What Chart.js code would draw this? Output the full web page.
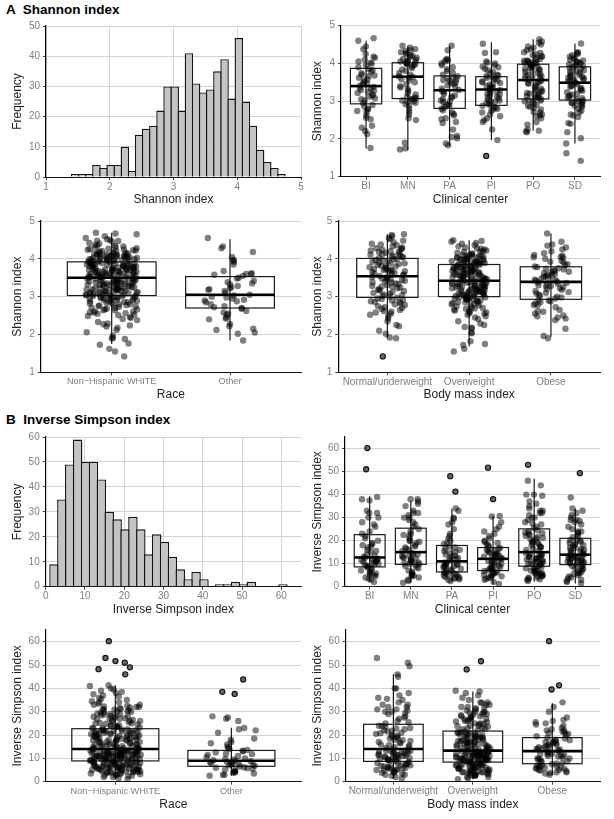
<!DOCTYPE html>
<html><head><meta charset="utf-8">
<script src="https://cdn.jsdelivr.net/npm/chart.js@4.4.1/dist/chart.umd.min.js"></script>
<style>
html,body{margin:0;padding:0;background:#fff;}
body{width:614px;height:819px;position:relative;overflow:hidden;font-family:"Liberation Sans",Arial,sans-serif;}
.ttl{position:absolute;left:6px;font-weight:bold;font-size:13.5px;white-space:pre;color:#000;line-height:16px;}
canvas{position:absolute;}
</style></head><body>
<div class="ttl" style="top:2px">A  Shannon index</div>
<div class="ttl" style="top:412px">B  Inverse Simpson index</div>
<canvas id="c1"></canvas><canvas id="c2"></canvas><canvas id="c3"></canvas><canvas id="c4"></canvas>
<canvas id="c5"></canvas><canvas id="c6"></canvas><canvas id="c7"></canvas><canvas id="c8"></canvas>
<script>
// ---------------- DATA ----------------
const centers = ['BI','MN','PA','PI','PO','SD'];
const races = ['Non\u2212Hispanic WHITE','Other'];
const bmiGroups = ['Normal/underweight','Overweight','Obese'];

// Histograms (bin centres and counts)
const shBins = [1.456,1.567,1.679,1.791,1.902,2.014,2.126,2.237,2.349,2.461,2.572,2.684,2.796,2.907,3.019,3.131,3.242,3.354,3.466,3.577,3.689,3.801,3.912,4.024,4.136,4.247,4.359,4.471,4.582,4.694];
const shFreq = [1,1,1,4,3,4,4,10,2,14,16,17,22,30,30,22,41,31,28,29,35,39,26,46,25,17,9,5,3,1];
const isBins = [2.105,4.115,6.125,8.135,10.145,12.155,14.165,16.175,18.185,20.195,22.205,24.215,26.225,28.235,30.245,32.255,34.265,36.275,38.285,40.295,42.305,44.315,46.325,48.335,50.345,52.355,54.365,56.375,58.385,60.395];
const isFreq = [9,35,49,59,50,50,43,30,27,23,28,23,13,21,18,12,7,3,6,3,0,1,1,2,1,2,0,0,0,1];

// Tick labels
const shHistXTicks = [1,2,3,4,5];
const shHistYTicks = [0,10,20,30,40,50];
const isHistXTicks = [0,10,20,30,40,50,60];
const isHistYTicks = [0,10,20,30,40,50,60];
const shBoxYTicks = [1,2,3,4,5];
const isBoxYTicks = [0,10,20,30,40,50,60];

// Box statistics per group: [lower whisker, Q1, median, Q3, upper whisker]
const shCenterBox = [[1.75,2.93,3.40,3.87,4.60],[1.71,3.07,3.65,4.02,4.47],[1.81,2.81,3.29,3.67,4.47],[1.97,2.89,3.31,3.65,4.56],[2.22,3.06,3.56,3.98,4.64],[1.88,3.03,3.49,3.91,4.53]];
const shRaceBox = [[1.75,3.03,3.50,3.92,4.69],[1.84,2.70,3.05,3.53,4.52]];
const shBmiBox = [[1.91,2.98,3.54,4.01,4.65],[1.68,3.00,3.42,3.85,4.49],[1.94,2.93,3.39,3.79,4.67]];
const isCenterBox = [[2.1,8.6,12.7,22.6,39.3],[1.7,9.7,15.0,25.4,37.1],[2.1,6.4,11.0,17.9,34.0],[1.1,7.0,12.1,17.0,30.7],[2.1,8.9,15.0,25.1,46.9],[1.4,9.6,13.9,21.0,34.0]];
const isRaceBox = [[1.1,8.9,14.0,22.7,41.3],[2.6,6.6,9.0,13.4,23.1]];
const isBmiBox = [[1.4,8.7,14.0,24.6,46.0],[1.1,8.4,13.3,21.7,38.7],[2.9,7.7,13.1,18.9,33.6]];

// Outliers (outlined points)
const shCenterOut = [[],[],[],[1.55],[],[]];
const shRaceOut = [[],[]];
const shBmiOut = [[1.42],[],[]];
const isCenterOut = [[60.2,51],[],[48,41.3],[51.7,38],[52.9],[49.3]];
const isRaceOut = [[60.2,53,51.7,51,49,48.2,46],[43.8,38.5,37.6]];
const isBmiOut = [[],[51.6,48.1],[60.2,41.3,39.5]];

// Shannon index, individual samples by clinical center
const shCenterPts = [
[1.76,2.13,2.21,2.30,2.35,2.52,2.56,2.62,2.72,2.74,2.78,2.80,2.86,2.90,2.95,3.02,3.05,3.08,3.12,3.15,3.18,3.22,3.25,3.28,3.30,3.33,3.36,3.38,3.42,3.46,3.48,3.50,3.55,3.58,3.62,3.66,3.68,3.70,3.74,3.78,3.82,3.85,3.90,3.95,4.00,4.02,4.05,4.10,4.15,4.18,4.25,4.38,4.45,4.60,4.67],
[1.72,1.75,1.90,2.50,2.55,2.65,2.72,2.80,2.88,2.92,2.96,3.00,3.02,3.05,3.06,3.08,3.12,3.18,3.22,3.28,3.32,3.36,3.40,3.45,3.50,3.55,3.58,3.62,3.64,3.66,3.70,3.75,3.80,3.84,3.88,3.92,3.95,3.98,4.00,4.01,4.03,4.05,4.06,4.08,4.10,4.12,4.15,4.18,4.20,4.22,4.25,4.28,4.30,4.33,4.35,4.38,4.42,4.47,4.04,3.97,3.10,2.98],
[1.83,1.88,2.02,2.05,2.08,2.25,2.42,2.45,2.52,2.55,2.62,2.70,2.76,2.80,2.84,2.88,2.92,2.98,3.02,3.06,3.10,3.15,3.20,3.24,3.27,3.30,3.33,3.38,3.42,3.46,3.50,3.53,3.56,3.60,3.63,3.66,3.70,3.75,3.80,3.85,3.90,3.95,4.00,4.05,4.08,4.10,4.12,4.35,4.47,2.90,3.00,3.12,3.48,3.58,2.66],
[1.97,2.25,2.45,2.50,2.55,2.60,2.65,2.70,2.75,2.78,2.82,2.85,2.88,2.90,2.93,2.96,3.00,3.04,3.08,3.12,3.15,3.18,3.22,3.25,3.28,3.30,3.32,3.35,3.38,3.40,3.44,3.48,3.52,3.55,3.58,3.60,3.62,3.64,3.66,3.70,3.74,3.78,3.82,3.86,3.90,3.95,4.00,4.02,4.05,4.28,4.30,4.52,3.10,3.20,3.45,3.50,2.98,2.80,3.02,3.36,3.68,3.92],
[2.18,2.20,2.22,2.25,2.38,2.45,2.55,2.60,2.65,2.70,2.72,2.78,2.82,2.85,2.90,2.94,2.98,3.00,3.02,3.05,3.08,3.10,3.12,3.15,3.18,3.20,3.22,3.25,3.28,3.30,3.33,3.36,3.40,3.44,3.48,3.50,3.52,3.55,3.57,3.60,3.62,3.65,3.68,3.70,3.72,3.75,3.78,3.80,3.82,3.85,3.88,3.90,3.92,3.95,3.97,3.99,4.00,4.01,4.02,4.04,4.05,4.07,4.08,4.10,4.12,4.15,4.18,4.20,4.22,4.25,4.28,4.30,4.35,4.38,4.42,4.45,4.50,4.55,4.58,4.64,2.88,3.03,3.26,3.46,3.66,3.86,4.03,2.62,3.14,3.94],
[1.42,1.62,1.88,2.02,2.18,2.40,2.42,2.58,2.62,2.70,2.75,2.80,2.85,2.88,2.92,2.95,2.98,3.00,3.02,3.05,3.08,3.12,3.15,3.20,3.24,3.28,3.32,3.35,3.38,3.42,3.45,3.48,3.50,3.52,3.55,3.58,3.60,3.62,3.65,3.68,3.72,3.75,3.78,3.82,3.85,3.88,3.90,3.93,3.95,3.98,4.00,4.02,4.05,4.08,4.12,4.15,4.18,4.22,4.25,4.28,4.30,4.53,2.96,3.10,3.30,3.56,3.70,3.96,4.10,2.65,3.40,3.80,2.90,3.18,3.64,4.03]
];

// Shannon index by race
const shRacePts = [
[1.42,1.55,1.62,1.73,1.76,1.88,1.90,1.91,1.97,2.06,2.12,2.18,2.21,2.24,2.27,2.29,2.33,2.38,2.41,2.44,2.46,2.49,
2.51,2.53,2.55,2.56,2.58,2.60,2.61,2.64,2.64,2.67,2.68,2.70,2.71,2.73,2.74,2.75,2.77,2.78,2.80,2.80,2.82,2.83,2.85,2.86,2.87,2.88,2.89,2.90,2.92,2.92,2.93,2.94,2.95,2.96,2.97,2.97,2.98,2.99,3.00,3.00,3.01,3.02,3.02,2.59,2.66,2.79,2.84,2.91,
3.03,3.04,3.05,3.05,3.07,3.08,3.09,3.10,3.11,3.11,3.13,3.14,3.15,3.16,3.17,3.18,3.19,3.20,3.21,3.21,3.23,3.24,3.24,3.26,3.27,3.28,3.29,3.30,3.31,3.32,3.32,3.34,3.35,3.36,3.37,3.37,3.38,3.40,3.40,3.41,3.42,3.43,3.44,3.45,3.46,3.46,3.48,3.48,3.49,3.50,3.06,3.12,3.17,3.22,3.27,3.33,3.39,3.44,3.47,3.09,3.15,3.25,3.35,3.42,3.04,3.19,3.29,3.38,3.13,3.30,
3.51,3.52,3.53,3.55,3.55,3.56,3.58,3.59,3.60,3.61,3.62,3.62,3.64,3.65,3.66,3.66,3.68,3.69,3.70,3.71,3.72,3.73,3.74,3.75,3.76,3.76,3.78,3.79,3.80,3.81,3.82,3.83,3.84,3.85,3.86,3.87,3.88,3.89,3.90,3.91,3.53,3.57,3.60,3.63,3.67,3.70,3.74,3.77,3.81,3.85,3.54,3.58,3.64,3.69,3.73,3.79,3.83,3.88,3.57,3.65,3.71,3.78,3.84,3.90,3.52,3.61,3.68,3.75,3.80,3.86,
3.92,3.93,3.94,3.95,3.96,3.97,3.98,3.99,4.00,4.00,4.01,4.02,4.03,4.04,4.05,4.06,4.07,4.08,4.09,4.10,4.11,4.12,4.13,4.14,4.15,4.16,4.18,4.19,4.20,4.22,4.23,4.25,4.26,4.28,4.30,4.31,4.33,4.35,4.37,4.40,4.42,4.45,4.48,4.50,4.52,4.55,4.60,4.65,4.67,4.69,3.94,3.97,4.01,4.03,4.06,4.09,4.12,4.17,4.21,4.27,3.95,3.99,4.02,4.05,4.08,4.11,4.15,4.24,4.34,4.47],
[4.55,4.33,4.28,4.18,4.05,3.98,3.95,3.92,3.85,3.68,3.62,3.60,3.58,3.55,3.50,3.42,3.38,3.35,3.32,3.25,3.22,3.20,3.18,3.10,3.05,3.03,3.00,2.95,2.92,2.90,2.88,2.85,2.75,2.72,2.70,2.68,2.62,2.55,2.52,2.45,2.42,2.40,2.28,2.22,2.15,2.12,2.05,2.02,1.84,3.48,3.15,2.98,2.80,2.58,3.28,3.60]
];

// Shannon index by body mass index
const shBmiPts = [
[1.90,1.92,2.02,2.10,2.22,2.25,2.35,2.42,2.48,2.52,2.55,2.60,2.62,2.65,2.68,2.72,2.75,2.78,2.80,2.82,2.85,2.88,2.90,2.92,2.95,2.97,2.86,2.70,2.58,2.94,
3.00,3.02,3.05,3.08,3.10,3.12,3.15,3.18,3.20,3.22,3.24,3.26,3.28,3.30,3.33,3.35,3.38,3.40,3.42,3.44,3.46,3.48,3.50,3.52,3.04,3.16,3.27,3.37,3.45,3.53,
3.55,3.57,3.59,3.61,3.63,3.65,3.67,3.69,3.70,3.72,3.74,3.76,3.78,3.80,3.82,3.84,3.86,3.88,3.90,3.92,3.94,3.96,3.98,4.00,3.62,3.68,3.73,3.81,3.89,3.97,
4.02,4.04,4.06,4.08,4.10,4.12,4.14,4.16,4.18,4.20,4.22,4.24,4.26,4.28,4.30,4.33,4.36,4.40,4.44,4.48,4.52,4.55,4.60,4.63,4.65,4.05,4.11,4.19,4.27,4.38],
[1.55,1.62,1.72,1.75,1.82,2.03,2.05,2.16,2.18,2.20,2.25,2.29,2.35,2.41,2.45,2.48,2.52,2.55,2.56,2.60,2.62,2.63,2.66,2.68,2.70,2.71,2.74,2.76,2.77,2.80,2.81,2.83,2.85,2.86,2.88,2.89,2.90,2.91,2.93,2.93,2.94,2.95,2.96,2.97,2.98,2.99,2.58,2.69,2.84,2.92,
3.00,3.01,3.02,3.04,3.04,3.05,3.07,3.08,3.09,3.10,3.11,3.13,3.13,3.14,3.16,3.17,3.18,3.19,3.20,3.21,3.22,3.23,3.25,3.26,3.27,3.28,3.29,3.30,3.31,3.33,3.33,3.34,3.35,3.36,3.38,3.39,3.40,3.41,3.06,3.12,3.15,3.24,3.31,3.37,3.02,3.22,3.09,3.18,3.27,3.35,
3.42,3.43,3.44,3.46,3.46,3.47,3.48,3.50,3.51,3.52,3.53,3.54,3.55,3.57,3.57,3.58,3.60,3.61,3.62,3.63,3.64,3.65,3.67,3.67,3.68,3.70,3.71,3.72,3.73,3.74,3.75,3.77,3.78,3.79,3.80,3.81,3.82,3.83,3.84,3.45,3.53,3.61,3.68,3.74,3.79,3.56,3.49,3.59,3.66,3.76,
3.85,3.86,3.87,3.88,3.89,3.90,3.91,3.92,3.93,3.94,3.95,3.96,3.97,3.98,3.99,4.00,4.01,4.02,4.03,4.04,4.05,4.06,4.07,4.08,4.09,4.10,4.12,4.14,4.16,4.18,4.20,4.22,4.25,4.28,4.30,4.33,4.36,4.40,4.42,4.45,4.47,4.49,3.88,3.94,4.00,4.05,4.11,4.19,4.27,3.91],
[1.90,1.96,2.15,2.38,2.42,2.45,2.48,2.50,2.55,2.60,2.65,2.72,2.78,2.82,2.85,2.88,2.90,2.92,2.78,2.62,
2.95,2.98,3.02,3.05,3.08,3.12,3.15,3.18,3.20,3.22,3.25,3.28,3.30,3.32,3.34,3.36,3.38,3.00,3.10,3.27,
3.40,3.42,3.45,3.48,3.50,3.52,3.55,3.58,3.60,3.62,3.65,3.68,3.70,3.72,3.75,3.78,3.44,3.56,3.66,3.74,
3.80,3.83,3.86,3.90,3.95,4.00,4.02,4.05,4.08,4.10,4.15,4.20,4.25,4.30,4.35,4.38,4.45,4.67,3.92,4.04]
];

// Inverse Simpson index by clinical center
const isCenterPts = [
[2,3,3.5,4,4.5,5,5.5,6,6.5,7,7.5,8,8.3,5.8,8.8,9,9.5,10,10.5,11,11,11.5,12,12,12.5,9.8,10.8,11.8,13,14,15,16,17,17.5,18,19,20,21,22,13.5,15.5,18.5,23,24,26,27,28,30,30,32,32,33,37.5,38,39],
[1.7,2.5,3,4,4.5,5,5.5,6,6.5,7,8,8.5,9,9.5,4.8,9.8,10,10.5,11,11.5,12,12.5,13,13.5,14,14.5,10.2,11.2,12.2,13.2,14.2,15.5,16,17,17.5,18,19,20,20,21,22,22.5,23,24,25,16.5,19.5,26,27,28,29,30,30,31,32,32,33,35,36,37,38,38],
[2.5,3,3.2,3.5,3.8,4,4.2,4.5,5,5.2,5.5,5.8,6,6.2,6.5,7,7.5,8,8.5,9,9,9.5,10,10,10.5,7.8,8.8,9.8,11.5,12,12.5,13,14,14.5,15,16,16.5,17,17.5,12.2,13.5,15.5,18.5,19,20,21,22,23,25,27,28,29.5,30,33,34],
[1.2,2,3,3.5,4,4.5,5,5.2,5.5,6,6.2,6.5,6.8,4.8,3.8,7.2,7.5,8,8.5,9,9.5,10,10.5,11,11.5,12,8.2,9.2,10.2,11.2,7.8,12.5,13,13.5,14,14.5,15,15.5,16,16.5,12.8,13.8,14.8,15.8,16.8,12.3,14.2,17.5,18,18.5,19,20,21,22,23,24,25,26,28,30.5,30.7,19.5],
[2.5,3,3.2,3.5,4,4,4.5,5,5,5.5,6,6,6.5,7,7,7.5,8,8,8.5,4.8,6.8,5.8,9,9.2,9.5,10,10,10.5,11,11,11.5,12,12,12.5,13,13,13.5,14,14,14.5,9.8,10.8,11.8,12.8,13.8,15.5,16,16.5,17,17.5,18,18.5,19,19.5,20,20.5,21,21.5,22,22.5,23,23.5,24,24.5,17.2,19.2,21.2,23.2,25.5,26,27,28,29,30,30,31,32,32,33,33,34,35,36,37,39.5,40,40,44,46,27.5],
[1.4,2,2.5,3,3.5,4,4.5,5,5.5,6,6.5,7,7.5,8,8.5,9,9.2,5.8,7.8,9.8,10,10.2,10.5,10.8,11,11.2,11.5,11.8,12,12.2,12.5,12.8,13,13.2,13.5,13.8,10.6,12.4,14,14.5,15,15.5,16,16,16.5,17,17.5,18,18.5,19,19.5,20,20.5,14.8,16.8,18.2,20.2,21.5,22,23,24,24,25,26,27,28,28.5,29,29,30,31,32,33,34,38.7,23.5]
];

// Inverse Simpson index by race
const isRacePts = [
[1.1,1.5,2,2,2.5,2.5,3,3,3,3.5,3.5,3.5,4,4,4,4,4.5,4.5,4.5,4.5,5,5,5,5,5,5.5,5.5,5.5,5.5,6,6,6,6,6,6.5,6.5,6.5,6.5,7,7,7,7,7,7.5,7.5,7.5,7.5,8,8,8,8,8.5,8.5,8.5,8.8,2.8,3.8,4.8,5.8,6.8,7.8,4.2,5.2,6.2,7.2,8.2,3.2,5.7,6.7,7.7,
9,9,9,9.2,9.3,9.5,9.5,9.7,9.8,10,10,10,10.2,10.3,10.5,10.5,10.7,10.8,11,11,11,11.2,11.3,11.5,11.5,11.7,11.8,12,12,12,12.2,12.3,12.5,12.5,12.7,12.8,13,13,13,13.2,13.3,13.5,13.5,13.7,13.8,13.9,9.1,9.6,10.1,10.6,11.1,11.6,12.1,12.6,13.1,13.6,9.4,9.9,10.4,10.9,11.4,11.9,12.4,12.9,13.4,9.2,10.9,11.3,12.7,13.2,
14,14.2,14.5,14.8,15,15,15.3,15.5,15.8,16,16,16.3,16.5,16.8,17,17,17.3,17.5,17.8,18,18,18.3,18.5,18.8,19,19,19.3,19.5,19.8,20,20,20.3,20.5,20.8,21,21,21.3,21.5,21.8,22,22,22.3,22.5,14.4,15.4,16.4,17.4,18.4,19.4,20.4,21.4,22.4,14.6,15.6,16.6,17.6,18.6,19.6,20.6,21.6,14.9,16.1,17.9,19.1,20.9,22.1,15.2,18.1,19.7,21.2,
22.8,23,23,23.5,23.5,24,24,24.5,25,25,25.5,26,26,26.5,27,27,27.5,28,28,28.5,29,29,29.5,30,30,30.5,31,31,31.5,32,32,32.5,33,33,34,34,35,35.5,36,37,37.5,38,39,39.5,40,41,41.3,23.2,24.2,25.2,26.2,27.2,28.2,29.2,30.2,31.2,32.2,23.8,24.8,25.8,26.8,27.8,28.8,29.8,30.8,31.8,33.5,34.5,36.5,38.5],
[2.6,3,3,3.5,3.8,4,4.2,4.5,5,5.2,5.5,5.8,6,6.2,6.5,6.8,7,7.2,7.5,7.8,8,8,8.3,8.5,8.8,9,9.2,9.5,10,10.5,11,11.5,12,12.5,13,13.3,13.6,14,14.5,15,16,16.5,17,18,18.5,21,22,22.5,23,26,27,27.5,28,9.8,7.4,11.8]
];

// Inverse Simpson index by body mass index
const isBmiPts = [
[1.4,2,2.5,3,3,3.5,4,4,4.5,5,5,5.5,5.5,6,6,6.5,6.5,7,7,7.5,7.5,8,8,8.5,4.8,5.8,6.8,7.8,3.8,6.2,
8.8,9,9.2,9.5,9.8,10,10.2,10.5,10.8,11,11.2,11.5,11.8,12,12.2,12.5,12.8,13,13.2,13.5,13.8,9.4,10.4,11.4,12.4,13.4,9.6,10.6,11.6,12.6,
14.5,15,15.5,16,16.5,17,17.5,18,18.5,19,19.5,20,20.5,21,21.5,22,22.5,23,23.5,24,14.8,15.8,16.8,17.8,18.8,19.8,20.8,21.8,22.8,23.8,
25,25.5,26,27,28,29,29.5,30,30,31,31,32,32,33,33,34,35,36,37,38,40,40,45,46,49.5,51,53,27.5,30.5,35.5],
[1.1,1.5,2,2,2.5,2.5,3,3,3,3.5,3.5,4,4,4,4.5,4.5,4.5,5,5,5,5.5,5.5,5.5,6,6,6,6.5,6.5,6.5,7,7,7,7.5,7.5,7.5,8,8,8.2,2.8,3.8,4.8,5.8,6.8,7.8,3.2,4.2,5.2,6.2,7.2,8.3,
8.5,8.7,9,9,9.2,9.5,9.5,9.8,10,10,10.2,10.5,10.5,10.8,11,11,11.2,11.5,11.5,11.8,12,12,12.2,12.5,12.5,12.8,13,13,13.2,8.9,9.4,9.9,10.4,10.9,11.4,11.9,12.4,12.9,8.6,9.1,9.6,10.1,10.6,11.1,11.6,12.1,12.6,13.1,9.3,10.7,
13.5,13.8,14,14.2,14.5,14.8,15,15.2,15.5,15.8,16,16.2,16.5,16.8,17,17.2,17.5,17.8,18,18.2,18.5,18.8,19,19.2,19.5,19.8,20,20.2,20.5,20.8,21,21.2,21.5,13.6,14.6,15.6,16.6,17.6,18.6,19.6,20.6,14.1,15.1,16.1,17.1,18.1,19.1,20.1,21.1,16.9,
22,22.5,23,23,23.5,24,24,24.5,25,25,25.5,26,26,26.5,27,27,27.5,28,28,28.5,29,29,29.5,30,30,30.5,31,31.5,32,32,33,33,34,34,35,36,37,38,38.7,39,22.8,23.8,24.8,25.8,26.8,27.8,28.8,29.8,31.8,33.8],
[3,3.5,4,4,4.5,5,5,5.5,5.5,6,6,6.5,6.5,7,7,7.5,3.8,4.8,5.8,6.8,
7.8,8,8.5,9,9.5,10,10,10.5,11,11,11.5,12,12,12.5,13,8.8,9.8,10.8,11.8,12.8,
13.5,14,14,14.5,15,15,15.5,16,16.5,17,17,17.5,18,18.5,13.8,14.8,15.8,16.8,17.8,18.8,
19.5,20,20.5,21,21.5,22,22,23,24,24.5,25,26,26.5,27.5,30,32,34,20.8,22.5,25.5]
];

// ---------------- DRAWING ----------------
const FONT = '"Liberation Sans", Arial, sans-serif';
const TICK_COLOR = '#7f7f7f';
const TITLE_COLOR = '#222222';
const GRID_COLOR = '#d3d3d3';

function jitter(i, k) {
  const s = Math.sin((i + 1) * 12.9898 + (k + 1) * 78.233) * 43758.5453;
  return (s - Math.floor(s)) - 0.5;
}

function boxPlugin(rows) {
  return {
    id: 'boxes',
    beforeDatasetsDraw(chart) {
      const ctx = chart.ctx, x = chart.scales.x, y = chart.scales.y;
      ctx.save();
      rows.forEach((r, i) => {
        const xc = x.getPixelForValue(i), x0 = x.getPixelForValue(i - 0.375), x1 = x.getPixelForValue(i + 0.375);
        const yl = y.getPixelForValue(r[0]), y1 = y.getPixelForValue(r[1]), ym = y.getPixelForValue(r[2]),
              y3 = y.getPixelForValue(r[3]), yh = y.getPixelForValue(r[4]);
        ctx.strokeStyle = '#1a1a1a'; ctx.lineWidth = 1.2;
        ctx.beginPath(); ctx.moveTo(xc, yl); ctx.lineTo(xc, yh); ctx.stroke();
        ctx.strokeRect(x0, y3, x1 - x0, y1 - y3);
        ctx.strokeStyle = '#000'; ctx.lineWidth = 2.6;
        ctx.beginPath(); ctx.moveTo(x0, ym); ctx.lineTo(x1, ym); ctx.stroke();
      });
      ctx.restore();
    }
  };
}

function makeChart(p) {
  const c = document.getElementById(p.id);
  c.style.left = p.cx + 'px'; c.style.top = p.cy + 'px';
  c.width = p.cw; c.height = p.ch;
  c.style.width = p.cw + 'px'; c.style.height = p.ch + 'px';
  const isBox = p.kind === 'box';
  const xScale = {
    type: 'linear', min: p.xmin, max: p.xmax, offset: false,
    afterBuildTicks: s => { s.ticks = p.xTicks.map(v => ({value: v})); },
    afterFit: s => { s.height = p.cy + p.ch - p.B; },
    grid: { display: true, drawOnChartArea: !isBox, color: GRID_COLOR, lineWidth: 1, drawTicks: true, tickLength: 3, tickColor: '#444', offset: false },
    border: { display: true, color: '#111', width: 1 },
    ticks: { color: TICK_COLOR, font: { family: FONT, size: p.xTickSize || 10 }, padding: 1, maxRotation: 0, autoSkip: false,
             callback: v => p.xLabels ? p.xLabels[Math.round(v)] : String(v) },
    title: { display: true, text: p.xTitle, color: TITLE_COLOR, font: { family: FONT, size: 12, lineHeight: 1 },
             padding: { top: 0, bottom: p.cy + p.ch - p.xTitleY - 6 } }
  };
  const yScale = {
    type: 'linear', min: p.ymin, max: p.ymax,
    afterBuildTicks: s => { s.ticks = p.yTicks.map(v => ({value: v})); },
    afterFit: s => { s.width = p.L - p.cx; },
    grid: { display: true, color: GRID_COLOR, lineWidth: 1, drawTicks: true, tickLength: 3, tickColor: '#444' },
    border: { display: true, color: '#000', width: 1.2 },
    ticks: { color: TICK_COLOR, font: { family: FONT, size: 10 }, padding: 3, callback: v => String(v) },
    title: { display: true, text: p.yTitle, color: TITLE_COLOR, font: { family: FONT, size: 12, lineHeight: 1 },
             padding: { top: p.yTitleX - p.cx - 6, bottom: 0 } }
  };
  let datasets, plugins = [], type;
  if (!isBox) {
    type = 'bar';
    datasets = [{
      data: p.bins.map((b, i) => ({ x: b, y: p.freq[i] })),
      backgroundColor: '#c4c4c4', borderColor: '#141414', borderWidth: 1.4,
      barPercentage: 1.2, categoryPercentage: 1.0, grouped: false
    }];
  } else {
    type = 'scatter';
    const pts = [], outs = [];
    p.pts.forEach((arr, g) => arr.forEach((v, i) => pts.push({ x: g + jitter(i, g) * 0.44, y: v })));
    p.outs.forEach((arr, g) => arr.forEach((v, i) => outs.push({ x: g + jitter(i + 500, g + 7) * 0.3, y: v })));
    datasets = [
      { data: pts, pointRadius: 3.2, pointHoverRadius: 3.2, pointBackgroundColor: 'rgba(0,0,0,0.5)', pointBorderWidth: 0, showLine: false },
      { data: outs, pointRadius: 2.6, pointHoverRadius: 2.6, pointBackgroundColor: 'rgba(95,95,95,0.95)', pointBorderColor: '#111', pointBorderWidth: 1.1, showLine: false }
    ];
    plugins = [boxPlugin(p.box)];
  }
  new Chart(c, {
    type, data: { datasets }, plugins,
    options: {
      responsive: false, animation: false, devicePixelRatio: 1,
      layout: { padding: { left: 0, top: p.T - p.cy, right: p.cx + p.cw - p.R, bottom: 0 } },
      plugins: { legend: { display: false }, tooltip: { enabled: false } },
      scales: { x: xScale, y: yScale }
    }
  });
}

const catRange = n => ({ xmin: -0.6, xmax: n - 0.4, xTicks: Array.from({length: n}, (_, i) => i) });

makeChart({ id: 'c1', cx: 0, cy: 16, cw: 307, ch: 194, L: 46, T: 26, R: 301, B: 177, yTitleX: 18, xTitleY: 200,
  kind: 'hist', xmin: 1, xmax: 5, xTicks: shHistXTicks, ymin: 0, ymax: 50, yTicks: shHistYTicks,
  bins: shBins, freq: shFreq, xTitle: 'Shannon index', yTitle: 'Frequency' });
makeChart(Object.assign({ id: 'c2', cx: 307, cy: 16, cw: 307, ch: 194, L: 341, T: 25.7, R: 600, B: 176.7, yTitleX: 318, xTitleY: 200,
  kind: 'box', xLabels: centers, ymin: 1, ymax: 5, yTicks: shBoxYTicks, pts: shCenterPts, outs: shCenterOut, box: shCenterBox,
  xTitle: 'Clinical center', yTitle: 'Shannon index' }, catRange(6)));
makeChart(Object.assign({ id: 'c3', cx: 0, cy: 212, cw: 307, ch: 193, L: 40.7, T: 220.7, R: 301, B: 372.3, yTitleX: 18, xTitleY: 395,
  kind: 'box', xLabels: races, xTickSize: 9.2, ymin: 1, ymax: 5, yTicks: shBoxYTicks, pts: shRacePts, outs: shRaceOut, box: shRaceBox,
  xTitle: 'Race', yTitle: 'Shannon index' }, catRange(2)));
makeChart(Object.assign({ id: 'c4', cx: 307, cy: 212, cw: 307, ch: 193, L: 338.3, T: 220.7, R: 600, B: 372.3, yTitleX: 318, xTitleY: 395,
  kind: 'box', xLabels: bmiGroups, ymin: 1, ymax: 5, yTicks: shBoxYTicks, pts: shBmiPts, outs: shBmiOut, box: shBmiBox,
  xTitle: 'Body mass index', yTitle: 'Shannon index' }, catRange(3)));
makeChart({ id: 'c5', cx: 0, cy: 428, cw: 307, ch: 190, L: 45.7, T: 435.7, R: 301, B: 586.7, yTitleX: 18, xTitleY: 610,
  kind: 'hist', xmin: 0, xmax: 65, xTicks: isHistXTicks, ymin: 0, ymax: 60, yTicks: isHistYTicks,
  bins: isBins, freq: isFreq, xTitle: 'Inverse Simpson index', yTitle: 'Frequency' });
makeChart(Object.assign({ id: 'c6', cx: 307, cy: 428, cw: 307, ch: 190, L: 345, T: 435.7, R: 600, B: 586.7, yTitleX: 318, xTitleY: 610,
  kind: 'box', xLabels: centers, ymin: 0, ymax: 65, yTicks: isBoxYTicks, pts: isCenterPts, outs: isCenterOut, box: isCenterBox,
  xTitle: 'Clinical center', yTitle: 'Inverse Simpson index' }, catRange(6)));
makeChart(Object.assign({ id: 'c7', cx: 0, cy: 620, cw: 307, ch: 199, L: 45.7, T: 630, R: 301, B: 781.7, yTitleX: 18, xTitleY: 805,
  kind: 'box', xLabels: races, xTickSize: 9.2, ymin: 0, ymax: 65, yTicks: isBoxYTicks, pts: isRacePts, outs: isRaceOut, box: isRaceBox,
  xTitle: 'Race', yTitle: 'Inverse Simpson index' }, catRange(2)));
makeChart(Object.assign({ id: 'c8', cx: 307, cy: 620, cw: 307, ch: 199, L: 345.7, T: 630, R: 600, B: 781.7, yTitleX: 318, xTitleY: 805,
  kind: 'box', xLabels: bmiGroups, ymin: 0, ymax: 65, yTicks: isBoxYTicks, pts: isBmiPts, outs: isBmiOut, box: isBmiBox,
  xTitle: 'Body mass index', yTitle: 'Inverse Simpson index' }, catRange(3)));
</script>
</body></html>
